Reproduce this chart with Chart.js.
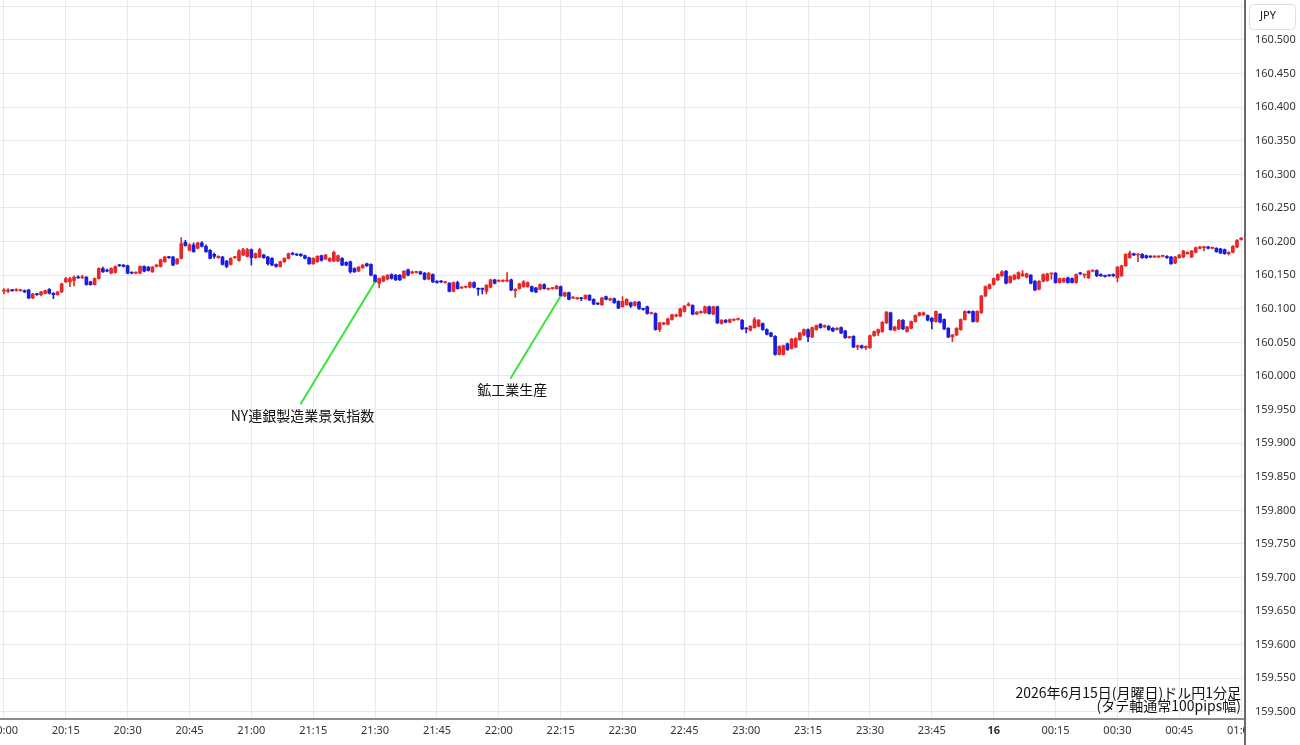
<!DOCTYPE html>
<html lang="ja">
<head>
<meta charset="utf-8">
<title>ドル円1分足</title>
<script src="https://cdn.jsdelivr.net/npm/chart.js@4.4.1/dist/chart.umd.min.js"></script>
<style>
  html, body { margin: 0; padding: 0; background: #fff; }
  #wrap { width: 1300px; height: 745px; }
</style>
</head>
<body>
<div id="wrap"><canvas id="myChart" width="1300" height="745"></canvas></div>
<script>
// 1-minute candles, 20:00 -> 01:00 (index = minutes after 20:00)
var open = [
160.126,160.126,160.128,160.127,160.127,160.127,160.128,160.116,160.122,160.121,
160.123,160.129,160.123,160.121,160.125,160.140,160.140,160.142,160.147,160.146,
160.147,160.140,160.136,160.145,160.160,160.157,160.153,160.154,160.165,160.165,
160.164,160.154,160.153,160.153,160.163,160.162,160.155,160.163,160.163,160.170,
160.177,160.177,160.167,160.175,160.199,160.187,160.195,160.190,160.198,160.193,
160.187,160.181,160.176,160.177,160.171,160.166,160.176,160.172,160.180,160.178,
160.188,160.176,160.177,160.180,160.177,160.175,160.166,160.163,160.170,160.175,
160.182,160.181,160.181,160.179,160.176,160.167,160.170,160.179,160.174,160.171,
160.171,160.171,160.175,160.169,160.170,160.160,160.156,160.161,160.167,160.166,
160.150,160.138,160.141,160.144,160.151,160.150,160.150,160.146,160.158,160.153,
160.154,160.155,160.153,160.144,160.151,160.141,160.141,160.139,160.138,160.126,
160.139,160.131,160.132,160.132,160.139,160.130,160.130,160.126,160.132,160.143,
160.141,160.141,160.141,160.143,160.127,160.130,160.133,160.133,160.133,160.131,
160.129,160.136,160.129,160.130,160.130,160.133,160.119,160.124,160.116,160.115,
160.116,160.115,160.120,160.114,160.108,160.106,160.118,160.113,160.115,160.111,
160.103,160.106,160.109,160.105,160.110,160.100,160.103,160.093,160.093,160.069,
160.077,160.077,160.084,160.089,160.089,160.096,160.105,160.105,160.092,160.094,
160.094,160.103,160.092,160.103,160.078,160.083,160.080,160.083,160.084,160.083,
160.071,160.068,160.072,160.074,160.078,160.069,160.064,160.059,160.032,160.032,
160.048,160.041,160.043,160.054,160.061,160.069,160.058,160.069,160.077,160.073,
160.074,160.071,160.069,160.072,160.067,160.057,160.059,160.043,160.045,160.042,
160.042,160.060,160.064,160.066,160.079,160.094,160.068,160.070,160.083,160.066,
160.071,160.081,160.090,160.091,160.090,160.086,160.081,160.092,160.084,160.071,
160.058,160.061,160.069,160.084,160.096,160.096,160.081,160.094,160.119,160.130,
160.136,160.143,160.149,160.156,160.139,160.144,160.145,160.149,160.147,160.150,
160.141,160.129,160.141,160.142,160.152,160.153,160.139,160.140,160.146,160.145,
160.139,160.153,160.150,160.146,160.156,160.157,160.151,160.149,160.150,160.151,
160.146,160.149,160.164,160.176,160.182,160.180,160.181,160.179,160.178,160.177,
160.177,160.178,160.178,160.177,160.168,160.176,160.177,160.182,160.177,160.184,
160.190,160.191,160.192,160.190,160.190,160.189,160.188,160.182,160.184,160.192,
160.203];

var high = [
160.130,160.130,160.129,160.130,160.129,160.128,160.129,160.123,160.123,160.126,
160.128,160.130,160.124,160.126,160.138,160.147,160.147,160.149,160.149,160.150,
160.148,160.141,160.146,160.161,160.162,160.159,160.161,160.164,160.166,160.166,
160.165,160.155,160.155,160.164,160.164,160.163,160.163,160.166,160.174,160.178,
160.178,160.178,160.175,160.206,160.202,160.197,160.198,160.199,160.200,160.195,
160.188,160.183,160.179,160.178,160.172,160.176,160.178,160.188,160.190,160.190,
160.189,160.183,160.190,160.181,160.178,160.176,160.167,160.171,160.176,160.183,
160.184,160.182,160.182,160.180,160.177,160.176,160.179,160.180,160.181,160.176,
160.186,160.180,160.176,160.170,160.171,160.161,160.163,160.166,160.168,160.167,
160.151,160.146,160.149,160.151,160.152,160.151,160.151,160.157,160.159,160.156,
160.156,160.156,160.154,160.154,160.152,160.142,160.142,160.141,160.139,160.140,
160.141,160.133,160.134,160.140,160.140,160.131,160.131,160.136,160.144,160.144,
160.143,160.143,160.154,160.144,160.130,160.138,160.142,160.140,160.134,160.132,
160.137,160.137,160.131,160.132,160.135,160.134,160.125,160.125,160.118,160.117,
160.117,160.121,160.121,160.115,160.109,160.117,160.119,160.116,160.116,160.112,
160.118,160.115,160.110,160.111,160.111,160.101,160.104,160.095,160.094,160.080,
160.080,160.086,160.092,160.092,160.101,160.105,160.109,160.106,160.096,160.097,
160.104,160.104,160.104,160.104,160.084,160.084,160.085,160.085,160.086,160.084,
160.072,160.075,160.087,160.084,160.079,160.070,160.065,160.060,160.045,160.046,
160.049,160.056,160.057,160.065,160.070,160.070,160.073,160.076,160.078,160.076,
160.075,160.072,160.072,160.073,160.068,160.059,160.060,160.046,160.046,160.045,
160.061,160.067,160.070,160.081,160.096,160.095,160.074,160.084,160.084,160.074,
160.082,160.091,160.095,160.095,160.091,160.087,160.097,160.093,160.085,160.072,
160.062,160.072,160.085,160.097,160.097,160.097,160.097,160.120,160.134,160.137,
160.146,160.152,160.157,160.157,160.149,160.151,160.155,160.157,160.153,160.151,
160.142,160.142,160.152,160.153,160.153,160.154,160.146,160.146,160.147,160.146,
160.152,160.154,160.152,160.157,160.158,160.158,160.152,160.150,160.151,160.152,
160.163,160.165,160.182,160.186,160.183,160.182,160.182,160.180,160.179,160.179,
160.179,160.180,160.179,160.178,160.178,160.181,160.187,160.185,160.187,160.192,
160.193,160.193,160.193,160.192,160.191,160.190,160.189,160.185,160.194,160.203,
160.206];

var low = [
160.122,160.124,160.126,160.126,160.126,160.124,160.115,160.115,160.120,160.119,
160.122,160.122,160.115,160.120,160.124,160.139,160.133,160.134,160.145,160.145,
160.135,160.135,160.135,160.144,160.154,160.155,160.152,160.153,160.163,160.162,
160.152,160.152,160.152,160.152,160.155,160.156,160.154,160.162,160.162,160.169,
160.175,160.164,160.166,160.174,160.193,160.186,160.184,160.189,160.192,160.184,
160.174,160.175,160.175,160.165,160.161,160.165,160.175,160.171,160.179,160.177,
160.165,160.175,160.176,160.175,160.165,160.164,160.162,160.162,160.169,160.174,
160.180,160.179,160.178,160.174,160.166,160.166,160.169,160.171,160.173,160.170,
160.170,160.170,160.164,160.164,160.153,160.154,160.155,160.160,160.163,160.149,
160.139,160.131,160.140,160.143,160.144,160.142,160.142,160.145,160.149,160.152,
160.153,160.151,160.143,160.143,160.139,160.138,160.139,160.138,160.125,160.125,
160.129,160.130,160.131,160.131,160.131,160.120,160.122,160.122,160.131,160.137,
160.140,160.140,160.140,160.127,160.117,160.129,160.132,160.132,160.125,160.124,
160.128,160.129,160.128,160.129,160.129,160.118,160.118,160.113,160.115,160.114,
160.112,160.114,160.112,160.106,160.106,160.105,160.113,160.112,160.108,160.100,
160.102,160.105,160.102,160.104,160.099,160.098,160.092,160.092,160.068,160.066,
160.076,160.076,160.083,160.088,160.088,160.095,160.104,160.091,160.091,160.093,
160.093,160.092,160.091,160.078,160.077,160.079,160.079,160.082,160.083,160.069,
160.064,160.067,160.071,160.073,160.068,160.061,160.058,160.031,160.031,160.031,
160.038,160.040,160.042,160.053,160.060,160.051,160.057,160.068,160.071,160.072,
160.068,160.066,160.068,160.063,160.056,160.056,160.042,160.039,160.041,160.039,
160.041,160.059,160.060,160.065,160.078,160.068,160.067,160.069,160.069,160.065,
160.070,160.080,160.089,160.090,160.082,160.070,160.080,160.079,160.069,160.057,
160.051,160.060,160.068,160.083,160.093,160.080,160.080,160.093,160.118,160.129,
160.135,160.142,160.148,160.137,160.138,160.143,160.144,160.148,160.146,160.137,
160.127,160.128,160.140,160.141,160.144,160.138,160.138,160.139,160.138,160.138,
160.138,160.151,160.146,160.145,160.155,160.148,160.148,160.147,160.148,160.148,
160.140,160.148,160.163,160.175,160.179,160.170,160.175,160.175,160.176,160.176,
160.176,160.177,160.175,160.166,160.167,160.175,160.176,160.181,160.176,160.183,
160.189,160.186,160.189,160.189,160.184,160.182,160.181,160.180,160.183,160.191,
160.202];

var close = [
160.128,160.128,160.127,160.128,160.128,160.125,160.116,160.122,160.121,160.125,
160.127,160.123,160.121,160.125,160.137,160.145,160.145,160.147,160.146,160.147,
160.136,160.136,160.145,160.160,160.155,160.156,160.160,160.163,160.164,160.163,
160.153,160.153,160.154,160.163,160.156,160.157,160.162,160.165,160.173,160.177,
160.176,160.165,160.174,160.197,160.194,160.195,160.185,160.198,160.193,160.185,
160.175,160.178,160.178,160.166,160.163,160.175,160.177,160.186,160.188,160.188,
160.176,160.182,160.188,160.176,160.167,160.165,160.163,160.170,160.175,160.182,
160.181,160.180,160.179,160.175,160.167,160.175,160.178,160.172,160.180,160.175,
160.184,160.179,160.165,160.165,160.155,160.155,160.162,160.165,160.164,160.150,
160.140,160.145,160.148,160.150,160.145,160.143,160.143,160.156,160.150,160.155,
160.155,160.152,160.144,160.153,160.140,160.139,160.140,160.140,160.126,160.139,
160.130,160.132,160.133,160.139,160.132,160.129,160.129,160.135,160.143,160.138,
160.142,160.142,160.142,160.128,160.129,160.137,160.140,160.139,160.126,160.125,
160.136,160.130,160.130,160.131,160.134,160.119,160.124,160.114,160.117,160.116,
160.115,160.120,160.113,160.107,160.107,160.116,160.114,160.115,160.109,160.101,
160.111,160.114,160.104,160.110,160.100,160.099,160.093,160.094,160.069,160.079,
160.079,160.085,160.091,160.091,160.100,160.104,160.107,160.092,160.095,160.096,
160.103,160.093,160.103,160.079,160.083,160.080,160.084,160.084,160.085,160.070,
160.070,160.074,160.084,160.083,160.069,160.062,160.059,160.032,160.044,160.045,
160.039,160.055,160.056,160.064,160.069,160.058,160.072,160.075,160.072,160.075,
160.069,160.067,160.071,160.064,160.057,160.058,160.043,160.045,160.042,160.044,
160.060,160.066,160.069,160.080,160.095,160.069,160.073,160.083,160.070,160.073,
160.081,160.090,160.094,160.094,160.083,160.081,160.096,160.080,160.070,160.058,
160.061,160.071,160.084,160.096,160.094,160.081,160.096,160.119,160.133,160.136,
160.145,160.151,160.155,160.138,160.148,160.150,160.154,160.152,160.152,160.138,
160.128,160.141,160.151,160.152,160.153,160.139,160.145,160.145,160.139,160.139,
160.151,160.152,160.151,160.156,160.157,160.149,160.149,160.148,160.149,160.149,
160.162,160.164,160.181,160.183,160.180,160.181,160.176,160.176,160.177,160.178,
160.178,160.179,160.176,160.167,160.177,160.180,160.186,160.184,160.186,160.191,
160.192,160.192,160.190,160.191,160.185,160.183,160.182,160.184,160.193,160.202,
160.205];

// axis ticks
var xTickMinutes = [0, 15, 30, 45, 60, 75, 90, 105, 120, 135, 150, 165, 180, 195, 210, 225, 240, 255, 270, 285, 300];
var xTickLabels = ['20:00', '20:15', '20:30', '20:45', '21:00', '21:15', '21:30', '21:45', '22:00', '22:15',
                   '22:30', '22:45', '23:00', '23:15', '23:30', '23:45', '16', '00:15', '00:30', '00:45', '01:00'];
var yTicks = [159.50, 159.55, 159.60, 159.65, 159.70, 159.75, 159.80, 159.85, 159.90, 159.95, 160.00,
              160.05, 160.10, 160.15, 160.20, 160.25, 160.30, 160.35, 160.40, 160.45, 160.50, 160.55];

// economic events (minute of the candle)
var eventNames = ['NY連銀製造業景気指数', '鉱工業生産'];
var eventMinutes = [90, 135];

var noteLines = ['2026年6月15日(月曜日)ドル円1分足', '(タテ軸通常100pips幅)'];

// where the event captions sit (x in minutes, y in price)
var eventLabelPos = [{ x: 71.9, y: 159.958 }, { x: 122.8, y: 159.996 }];

var upColor = '#e62828';
var downColor = '#1c1cdf';
var gridColor = '#e3ebf0';
var jpFont = '"Noto Sans CJK JP", sans-serif';

var colors = open.map(function (o, i) { return close[i] >= o ? upColor : downColor; });
var bodies = open.map(function (o, i) { return { x: i, y: [o, close[i]] }; });
var wicks = open.map(function (o, i) { return { x: i, y: [low[i], high[i]] }; });

var overlay = {
    id: 'overlay',
    afterDatasetsDraw: function (chart) {
        var ctx = chart.ctx, xs = chart.scales.x, ys = chart.scales.y;
        ctx.save();
        for (var i = 0; i < eventNames.length; i++) {
            var x1 = xs.getPixelForValue(eventMinutes[i]);
            var y1 = ys.getPixelForValue(close[eventMinutes[i]]);
            var x2 = xs.getPixelForValue(eventLabelPos[i].x);
            var y2 = ys.getPixelForValue(eventLabelPos[i].y);
            ctx.strokeStyle = '#3ee23e';
            ctx.lineWidth = 2;
            ctx.beginPath();
            ctx.moveTo(x1, y1);
            ctx.lineTo(x2, y2);
            ctx.stroke();
            ctx.fillStyle = '#111';
            ctx.font = '14px ' + jpFont;
            ctx.textAlign = 'center';
            ctx.textBaseline = 'middle';
            ctx.fillText(eventNames[i], x2 + 2, y2 + 11);
        }
        ctx.font = '14px ' + jpFont;
        ctx.textAlign = 'right';
        ctx.fillStyle = '#111';
        ctx.fillText(noteLines[0], chart.chartArea.right - 3, 693);
        ctx.fillText(noteLines[1], chart.chartArea.right - 3, 706);
        ctx.restore();
    },
    afterDraw: function (chart) {
        var ctx = chart.ctx, a = chart.chartArea;
        ctx.save();
        // clip the x labels that run past the price axis
        ctx.fillStyle = '#fff';
        ctx.fillRect(a.right + 1, a.bottom + 1, chart.width - a.right, chart.height - a.bottom);
        ctx.strokeStyle = '#8c8c8c';
        ctx.lineWidth = 2;
        ctx.beginPath();
        ctx.moveTo(0, a.bottom + 1);
        ctx.lineTo(a.right, a.bottom + 1);
        ctx.stroke();
        ctx.strokeStyle = '#6a6a6a';
        ctx.beginPath();
        ctx.moveTo(a.right + 1, 0);
        ctx.lineTo(a.right + 1, chart.height);
        ctx.stroke();
        // currency box
        ctx.fillStyle = '#fff';
        ctx.strokeStyle = '#dedede';
        ctx.lineWidth = 1;
        ctx.beginPath();
        ctx.roundRect(a.right + 5.5, 4.5, 46, 25, 4);
        ctx.fill();
        ctx.stroke();
        ctx.fillStyle = '#222';
        ctx.font = '11px "Noto Sans", sans-serif';
        ctx.textAlign = 'center';
        ctx.textBaseline = 'middle';
        ctx.fillText('JPY', a.right + 24, 16);
        ctx.restore();
    }
};

Chart.defaults.font.family = '"Noto Sans", sans-serif';
Chart.defaults.font.size = 11;
Chart.defaults.color = '#333';

var ctx = document.getElementById('myChart').getContext('2d');
var myChart = new Chart(ctx, {
    type: 'bar',
    data: {
        datasets: [
            { data: wicks, backgroundColor: colors, barThickness: 1, grouped: false, order: 2 },
            { data: bodies, backgroundColor: colors, barThickness: 3, grouped: false, minBarLength: 1, order: 1 }
        ]
    },
    options: {
        responsive: false,
        animation: false,
        devicePixelRatio: 1,
        layout: { padding: 0, autoPadding: false },
        plugins: { legend: { display: false }, tooltip: { enabled: false } },
        scales: {
            x: {
                type: 'linear',
                offset: false,
                min: -0.95,
                max: 300.7,
                afterBuildTicks: function (s) { s.ticks = xTickMinutes.map(function (v) { return { value: v }; }); },
                afterFit: function (s) { s.height = 27; s.paddingLeft = 0; s.paddingRight = 0; },
                grid: { color: gridColor, drawTicks: false, offset: false },
                border: { display: false },
                ticks: {
                    autoSkip: false,
                    maxRotation: 0,
                    padding: 6,
                    color: '#333',
                    font: function (c) { return (c.tick && c.tick.value === 240) ? { weight: 'bold' } : {}; },
                    callback: function (v, i) { return xTickLabels[i]; }
                }
            },
            y: {
                position: 'right',
                min: 159.491,
                max: 160.5595,
                afterBuildTicks: function (s) { s.ticks = yTicks.map(function (v) { return { value: v }; }); },
                afterFit: function (s) { s.width = 56; s.paddingTop = 0; s.paddingBottom = 0; },
                grid: { color: gridColor, drawTicks: false },
                border: { display: false },
                ticks: {
                    padding: 11,
                    color: '#333',
                    callback: function (v) { return v > 160.5 ? '' : v.toFixed(3); }
                }
            }
        }
    },
    plugins: [overlay]
});
</script>
</body>
</html>
